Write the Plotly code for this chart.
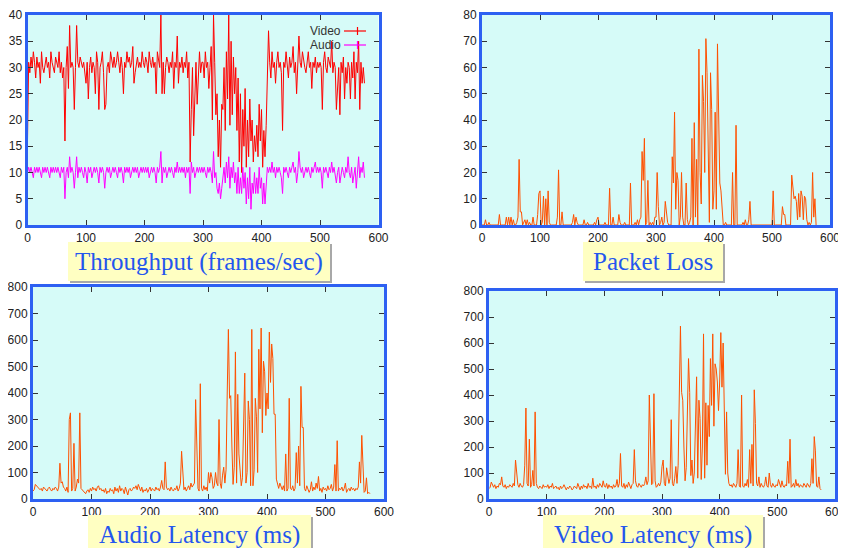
import plotly.graph_objects as go

# ---------------- data (time in seconds, sampled every 2 s) ----------------
time_s = list(range(0, 577, 2))

video_fps = [
    16, 31, 29, 32, 30, 33, 31, 28, 32, 30, 31, 27, 33, 30, 29, 31, 32, 30, 31, 28, 33, 31, 30, 29, 32,
    31, 30, 33, 29, 31, 28, 30, 16, 30, 34, 26, 38, 30, 31, 30, 22, 30, 38, 31, 30, 32, 31, 30, 31, 29,
    27, 31, 24, 30, 32, 29, 31, 30, 25, 33, 31, 22, 30, 31, 33, 29, 22, 23, 30, 31, 29, 33, 31, 30, 32,
    30, 31, 33, 31, 29, 32, 30, 25, 31, 30, 33, 31, 32, 30, 31, 34, 27, 29, 31, 32, 30, 31, 30, 33, 31,
    30, 32, 31, 29, 33, 31, 30, 32, 30, 31, 25, 33, 31, 30, 40, 25, 31, 25, 30, 32, 31, 29, 31, 30, 33,
    26, 31, 30, 36, 27, 31, 30, 32, 29, 31, 30, 33, 28, 31, 12, 22, 30, 17, 27, 31, 23, 30, 33, 29, 31,
    31, 28, 33, 30, 31, 26, 30, 34, 20, 40, 31, 21, 25, 13, 20, 11, 23, 22, 30, 18, 33, 24, 40, 19, 35,
    21, 32, 25, 30, 18, 28, 12, 25, 10, 22, 15, 26, 11, 20, 13, 24, 16, 20, 12, 17, 14, 19, 13, 23, 16,
    22, 11, 18, 13, 19, 30, 37, 31, 28, 33, 30, 31, 27, 31, 33, 30, 31, 29, 18, 31, 30, 33, 31, 28, 32,
    30, 31, 34, 29, 31, 25, 30, 36, 31, 30, 33, 31, 30, 29, 31, 33, 30, 31, 26, 31, 30, 32, 29, 31, 30,
    31, 30, 22, 31, 33, 30, 29, 32, 31, 30, 35, 29, 31, 30, 22, 26, 30, 21, 31, 29, 32, 24, 30, 27, 31,
    30, 24, 31, 28, 33, 24, 31, 29, 35, 22, 31, 27, 30, 27,
]

audio_fps = [
    10, 11, 10, 11, 10, 9, 11, 10, 11, 10, 11, 10, 9, 11, 10, 11, 10, 11, 10, 9, 11, 10, 11, 10, 11,
    10, 11, 10, 9, 11, 10, 11, 5, 10, 11, 9, 13, 10, 11, 10, 7, 10, 13, 9, 11, 10, 11, 10, 9, 11,
    10, 8, 11, 10, 11, 9, 10, 11, 10, 11, 10, 8, 11, 10, 11, 10, 7, 10, 11, 10, 11, 9, 10, 11, 10,
    11, 10, 9, 11, 10, 11, 10, 8, 11, 10, 11, 10, 11, 9, 10, 11, 10, 11, 10, 11, 9, 10, 11, 10, 11,
    10, 11, 10, 11, 9, 10, 11, 10, 11, 10, 8, 11, 10, 11, 14, 8, 11, 10, 11, 9, 10, 11, 10, 11, 10,
    9, 11, 10, 12, 10, 11, 10, 11, 10, 11, 9, 11, 10, 11, 6, 12, 10, 11, 9, 10, 11, 10, 11, 10, 11,
    10, 11, 10, 9, 11, 10, 11, 10, 8, 14, 9, 10, 7, 6, 8, 5, 7, 9, 11, 8, 12, 9, 13, 7, 11,
    9, 12, 8, 10, 6, 11, 6, 9, 6, 11, 7, 10, 4, 9, 5, 11, 3, 8, 6, 10, 6, 9, 6, 11, 7,
    9, 4, 8, 4, 8, 11, 10, 11, 10, 12, 10, 11, 9, 11, 10, 11, 10, 9, 6, 11, 10, 11, 10, 9, 11,
    10, 11, 12, 10, 11, 8, 10, 14, 11, 10, 11, 9, 10, 11, 10, 11, 10, 9, 11, 10, 11, 12, 10, 11, 10,
    11, 10, 7, 11, 10, 11, 10, 9, 11, 10, 12, 10, 11, 9, 8, 10, 11, 8, 10, 11, 10, 9, 11, 10, 13,
    10, 9, 11, 8, 10, 11, 7, 10, 13, 9, 11, 10, 12, 9,
]

packet_loss = [
    0, 0, 0, 2, 0, 0, 1, 0, 0, 0, 0, 0, 0, 0, 0, 4, 0, 0, 0, 0, 0, 3, 0, 3, 0,
    3, 0, 2, 0, 0, 1, 3, 25, 5, 5, 0, 1, 2, 0, 2, 0, 1, 0, 0, 3, 0, 0, 0, 4, 12,
    13, 0, 1, 11, 0, 10, 0, 13, 1, 0, 0, 0, 0, 0, 0, 3, 21, 0, 0, 5, 0, 0, 0, 0, 0,
    0, 0, 0, 1, 4, 0, 3, 1, 0, 0, 0, 0, 0, 2, 0, 0, 1, 0, 0, 0, 0, 0, 1, 0, 2,
    3, 0, 0, 0, 0, 0, 1, 0, 0, 0, 14, 0, 0, 3, 0, 0, 0, 0, 4, 1, 0, 0, 0, 1, 0,
    0, 0, 0, 16, 0, 0, 0, 1, 0, 2, 0, 2, 3, 28, 17, 33, 0, 1, 17, 0, 1, 0, 1, 0, 3,
    3, 20, 7, 0, 1, 3, 0, 1, 9, 5, 1, 0, 0, 0, 26, 16, 43, 6, 20, 17, 0, 3, 20, 3, 0,
    0, 16, 2, 0, 1, 3, 33, 0, 39, 3, 25, 0, 67, 20, 8, 57, 47, 20, 71, 58, 26, 1, 58, 44, 6,
    13, 43, 6, 69, 36, 16, 13, 6, 0, 0, 1, 0, 0, 0, 0, 0, 20, 0, 0, 38, 0, 0, 0, 0, 0,
    1, 0, 2, 0, 0, 2, 9, 0, 0, 0, 0, 0, 0, 0, 0, 0, 0, 0, 0, 0, 0, 0, 0, 0, 0,
    0, 13, 0, 0, 0, 0, 0, 0, 0, 7, 4, 4, 0, 0, 0, 0, 0, 19, 14, 10, 11, 9, 2, 12, 3,
    13, 11, 2, 11, 10, 2, 0, 1, 0, 1, 20, 3, 10, 0,
]

audio_latency = [
    30, 35, 55, 50, 45, 40, 35, 40, 30, 45, 40, 35, 30, 40, 45, 35, 30, 40, 35, 45, 40, 30, 45, 135, 60,
    65, 45, 40, 30, 45, 25, 300, 325, 30, 40, 210, 30, 45, 75, 60, 325, 40, 35, 30, 25, 20, 30, 35, 25, 40,
    30, 45, 35, 40, 30, 45, 50, 35, 40, 30, 35, 25, 40, 20, 30, 25, 40, 30, 35, 20, 45, 30, 40, 25, 50,
    30, 40, 35, 20, 45, 30, 15, 35, 40, 30, 35, 45, 40, 50, 35, 55, 40, 30, 45, 25, 35, 30, 40, 25, 35,
    45, 30, 40, 35, 30, 45, 35, 40, 30, 45, 70, 40, 35, 140, 45, 35, 40, 30, 45, 35, 30, 40, 35, 50, 30,
    40, 60, 180, 80, 35, 45, 30, 40, 50, 35, 60, 45, 55, 60, 375, 170, 40, 30, 435, 40, 30, 50, 35, 45, 30,
    100, 60, 100, 80, 40, 50, 100, 60, 50, 300, 60, 40, 90, 120, 60, 110, 400, 640, 380, 390, 200, 55, 120, 555, 60,
    395, 170, 120, 50, 80, 250, 475, 60, 100, 370, 300, 50, 640, 50, 110, 380, 310, 100, 565, 340, 645, 250, 520, 480, 315,
    400, 340, 630, 440, 585, 530, 320, 320, 75, 50, 40, 60, 45, 35, 50, 30, 170, 30, 40, 380, 40, 35, 50, 30, 40,
    175, 60, 200, 50, 425, 270, 270, 40, 30, 50, 40, 25, 35, 65, 30, 45, 35, 60, 40, 85, 30, 40, 25, 45, 35,
    40, 30, 50, 35, 40, 55, 30, 45, 130, 30, 220, 30, 40, 35, 45, 30, 40, 60, 25, 35, 40, 30, 45, 35, 40,
    30, 40, 35, 45, 140, 60, 240, 150, 25, 30, 80, 20, 25, 20,
]

video_latency = [
    40, 45, 65, 50, 45, 55, 40, 50, 45, 60, 55, 85, 50, 45, 55, 40, 50, 45, 55, 50, 45, 60, 50, 150, 90,
    55, 45, 60, 50, 45, 55, 130, 350, 60, 50, 230, 45, 55, 110, 50, 335, 60, 45, 40, 50, 45, 40, 55, 45, 50,
    45, 55, 40, 50, 45, 60, 40, 45, 50, 40, 45, 35, 50, 40, 45, 55, 40, 35, 45, 40, 50, 45, 35, 40, 50,
    45, 40, 60, 45, 35, 50, 40, 55, 45, 50, 40, 60, 45, 50, 40, 80, 45, 50, 40, 55, 45, 60, 50, 45, 70,
    50, 45, 60, 40, 55, 45, 50, 40, 55, 45, 50, 75, 45, 60, 175, 50, 45, 60, 40, 55, 45, 65, 50, 40, 55,
    60, 190, 70, 50, 45, 60, 50, 45, 55, 50, 60, 85, 55, 70, 400, 170, 55, 60, 405, 70, 45, 50, 60, 50, 65,
    125, 150, 60, 50, 120, 80, 60, 80, 305, 60, 50, 80, 125, 60, 130, 400, 665, 410, 380, 200, 70, 120, 300, 540, 410,
    90, 150, 60, 100, 250, 470, 80, 380, 310, 75, 200, 635, 80, 370, 130, 360, 240, 540, 360, 635, 280, 520, 500, 450, 340,
    450, 640, 430, 600, 335, 95, 335, 100, 60, 50, 55, 45, 60, 50, 45, 60, 190, 50, 45, 400, 50, 45, 60, 50, 75,
    45, 190, 60, 210, 50, 420, 290, 60, 50, 85, 45, 60, 50, 45, 55, 85, 50, 45, 100, 55, 45, 60, 50, 45, 55,
    50, 75, 60, 45, 70, 50, 45, 55, 50, 145, 60, 230, 45, 50, 60, 45, 75, 50, 60, 45, 55, 50, 45, 60, 50,
    45, 60, 50, 45, 60, 155, 60, 240, 185, 50, 45, 85, 40, 35,
]

x_ticks = [0, 100, 200, 300, 400, 500, 600]
titles = ["Throughput (frames/sec)", "Packet Loss", "Audio Latency (ms)", "Video Latency (ms)"]
legend_names = ["Video", "Audio"]

for s in (video_fps, audio_fps, packet_loss, audio_latency, video_latency):
    assert len(s) == len(time_s), len(s)

# ---------------- styling ----------------
# the page body has an 8 px default margin, so the figure is drawn 8 px smaller
# and every pixel position below is given in window coordinates
OFF = 8
W, H = 846 - OFF, 548 - OFF
BG = "#d6fbf8"
FRAME = "#2d60f2"
ORANGE = "#ff5000"
TICKFONT = dict(family="Liberation Sans, Arial, sans-serif", size=12, color="#222222")


def px_x(v):
    return (v - OFF) / W


def px_y(v):
    return 1 - (v - OFF) / H


fig = go.Figure()

fig.add_trace(go.Scatter(x=time_s, y=video_fps, mode="lines", line=dict(color="#ff0000", width=1),
                         xaxis="x", yaxis="y", showlegend=False))
fig.add_trace(go.Scatter(x=time_s, y=audio_fps, mode="lines", line=dict(color="#ff00ff", width=1),
                         xaxis="x", yaxis="y", showlegend=False))
fig.add_trace(go.Scatter(x=time_s, y=packet_loss, mode="lines", line=dict(color=ORANGE, width=1),
                         xaxis="x2", yaxis="y2", showlegend=False))
fig.add_trace(go.Scatter(x=time_s, y=audio_latency, mode="lines", line=dict(color=ORANGE, width=1),
                         xaxis="x3", yaxis="y3", showlegend=False))
fig.add_trace(go.Scatter(x=time_s, y=video_latency, mode="lines", line=dict(color=ORANGE, width=1),
                         xaxis="x4", yaxis="y4", showlegend=False))

panels = [
    # (left, right, top, bottom) in window pixels, y range, y dtick
    (27.5, 378.5, 15, 225, 40, 5),
    (482, 830, 15, 225, 80, 10),
    (33, 384, 287, 499, 800, 100),
    (489, 835, 291, 499, 800, 100),
]

layout = dict(
    width=W, height=H, margin=dict(l=0, r=0, t=0, b=0, autoexpand=False),
    paper_bgcolor="white", plot_bgcolor=BG, showlegend=False,
)

for i, (l, r, t, b, ymax, dy) in enumerate(panels):
    sfx = "" if i == 0 else str(i + 1)
    common = dict(showgrid=False, zeroline=False, showline=True, linecolor=FRAME, linewidth=3,
                  mirror="allticks", ticks="inside", ticklen=5, tickcolor="#333333", tickwidth=1,
                  tickfont=TICKFONT, automargin=False)
    layout["xaxis" + sfx] = dict(domain=[px_x(l), px_x(r)], range=[0, 600], tickvals=x_ticks,
                                 anchor="y" + sfx, **common)
    layout["yaxis" + sfx] = dict(domain=[px_y(b), px_y(t)], range=[0, ymax], dtick=dy,
                                 anchor="x" + sfx, **common)

fig.update_layout(**layout)

# ---------------- title boxes ----------------
boxes = [
    (68, 242, 330, 281, 262, titles[0]),
    (583, 242, 723, 281, 262, titles[1]),
    (88, 515, 311, 560, 535, titles[2]),
    (543, 515, 763, 560, 535, titles[3]),
]
shapes = []
annotations = []
for (x0, y0, x1, y1, cy, txt) in boxes:
    shapes.append(dict(type="rect", xref="paper", yref="paper", x0=px_x(x0 + 2), x1=px_x(x1 + 2),
                       y0=px_y(y1 + 2), y1=px_y(y0 + 2), fillcolor="#a8a8a8", line=dict(width=0),
                       layer="above"))
    shapes.append(dict(type="rect", xref="paper", yref="paper", x0=px_x(x0), x1=px_x(x1),
                       y0=px_y(y1), y1=px_y(y0), fillcolor="#ffffc2", line=dict(width=0),
                       layer="above"))
    annotations.append(dict(xref="paper", yref="paper", x=px_x((x0 + x1) / 2), y=px_y(cy),
                            text=txt, showarrow=False, xanchor="center", yanchor="middle",
                            font=dict(family="Liberation Serif, Times New Roman, serif", size=25,
                                      color="#2456ee")))

# ---------------- legend of the throughput panel ----------------
for name, color, ly in [(legend_names[0], "#ff0000", 31), (legend_names[1], "#ff00ff", 45)]:
    annotations.append(dict(xref="paper", yref="paper", x=px_x(342), y=px_y(ly), text=name,
                            showarrow=False, xanchor="right", yanchor="middle", borderpad=0,
                            font=dict(family="Liberation Sans, Arial, sans-serif", size=12,
                                      color="#333333")))
    shapes.append(dict(type="line", xref="paper", yref="paper", x0=px_x(344), x1=px_x(366),
                       y0=px_y(ly), y1=px_y(ly), line=dict(color=color, width=1.2), layer="above"))
    shapes.append(dict(type="line", xref="paper", yref="paper", x0=px_x(357.5), x1=px_x(357.5),
                       y0=px_y(ly - 4), y1=px_y(ly + 4), line=dict(color=color, width=1.2),
                       layer="above"))

fig.update_layout(shapes=shapes, annotations=annotations)

fig.write_html("out.html")
